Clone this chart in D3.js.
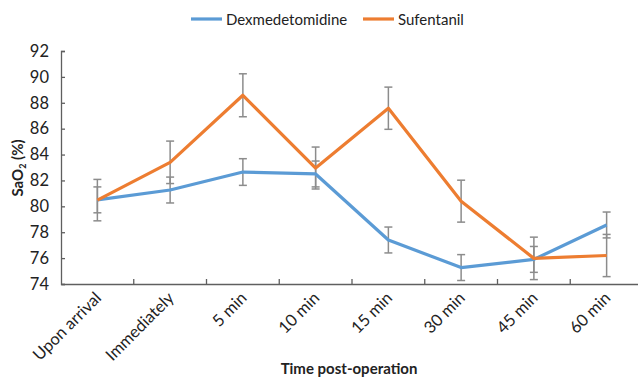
<!DOCTYPE html>
<html><head><meta charset="utf-8">
<script src="https://cdn.jsdelivr.net/npm/d3@7"></script>
<style>body{margin:0;background:#fff;} text{font-family:Lato,"Liberation Sans",Arial,sans-serif;}</style>
</head><body><svg id="c" width="638" height="379"></svg>
<script>
const categories = ["Upon arrival","Immediately","5 min","10 min","15 min","30 min","45 min","60 min"];
const dexValues = [80.5, 81.26, 82.65, 82.5, 77.4, 75.27, 75.9, 78.56];
const dexErrors = [1.0, 1.0, 1.03, 1.0, 1.0, 1.0, 1.0, 1.0];
const sufValues = [80.48, 83.4, 88.58, 82.96, 87.58, 80.4, 75.98, 76.2];
const sufErrors = [1.6, 1.64, 1.66, 1.62, 1.63, 1.62, 1.64, 1.63];
const yTicks = [74,76,78,80,82,84,86,88,90,92];
const seriesNames = ["Dexmedetomidine","Sufentanil"];
const colors = ["#5B9BD5","#ED7D31"];

const svg = d3.select("#c");
const x = d3.scaleBand().domain(categories).range([61, 643]);
const y = d3.scaleLinear().domain([74, 92]).range([284, 51]);
const axisColor = "#5f5f5f";
const font = "Lato, 'Liberation Sans', Arial, sans-serif";

// y axis
const ya = svg.append("g").attr("transform","translate(61,0)")
  .call(d3.axisLeft(y).tickValues(yTicks).tickSize(-4).tickPadding(12));
ya.select(".domain").attr("stroke", axisColor).attr("stroke-width",1.3);
ya.selectAll(".tick line").attr("stroke", axisColor).attr("stroke-width",1.3);
ya.selectAll(".tick text").attr("font-size",16.5).attr("fill","#222").attr("font-family",font);

// x axis
const xa = svg.append("g").attr("transform","translate(0,284)")
  .call(d3.axisBottom(x).tickSize(0).tickSizeOuter(0));
xa.select(".domain").attr("stroke", axisColor).attr("stroke-width",1.3);
xa.selectAll(".tick text").remove();
svg.append("g").selectAll("line").data(categories.slice(1)).join("line")
  .attr("x1", d => x(d)).attr("x2", d => x(d))
  .attr("y1", 284).attr("y2", 279)
  .attr("stroke", axisColor).attr("stroke-width",1.3);
svg.append("g").selectAll("text").data(categories).join("text")
  .attr("transform", d => `translate(${x(d)+x.bandwidth()/2+5},${299}) rotate(-45)`)
  .attr("text-anchor","end").attr("font-size",16.5).attr("fill","#222")
  .text(d => d);

// error bars
function errBars(vals, errs) {
  const g = svg.append("g").attr("stroke","#8c8c8c").attr("stroke-width",1.5);
  vals.forEach((v,i) => {
    const cx = x(categories[i]) + x.bandwidth()/2;
    g.append("line").attr("x1",cx).attr("x2",cx).attr("y1",y(v+errs[i])).attr("y2",y(v-errs[i]));
    [v+errs[i], v-errs[i]].forEach(e => {
      g.append("line").attr("x1",cx-4).attr("x2",cx+4).attr("y1",y(e)).attr("y2",y(e));
    });
  });
}
errBars(dexValues, dexErrors);
errBars(sufValues, sufErrors);

// lines
const line = d3.line().x((d,i) => x(categories[i]) + x.bandwidth()/2).y(d => y(d));
[dexValues, sufValues].forEach((vals, k) => {
  svg.append("path").datum(vals).attr("d", line).attr("fill","none")
    .attr("stroke", colors[k]).attr("stroke-width",3.2).attr("stroke-linejoin","round");
});

// axis titles
svg.append("text").attr("x",349).attr("y",374).attr("text-anchor","middle")
  .attr("font-size",15).attr("font-weight","bold").attr("fill","#222").text("Time post-operation");
const yt = svg.append("text").attr("transform","translate(23,168) rotate(-90)")
  .attr("text-anchor","middle").attr("font-size",15).attr("font-weight","bold").attr("fill","#222");
yt.append("tspan").text("SaO");
yt.append("tspan").attr("font-size",9).attr("dy",3).text("2");
yt.append("tspan").attr("dy",-3).text(" (%)");

// legend
const legX = [191, 363];
seriesNames.forEach((n,k) => {
  svg.append("line").attr("x1",legX[k]).attr("x2",legX[k]+31).attr("y1",19).attr("y2",19)
    .attr("stroke",colors[k]).attr("stroke-width",3.2);
  svg.append("text").attr("x",legX[k]+35).attr("y",24.5).attr("font-size",15).attr("fill","#222").text(n);
});
</script></body></html>
